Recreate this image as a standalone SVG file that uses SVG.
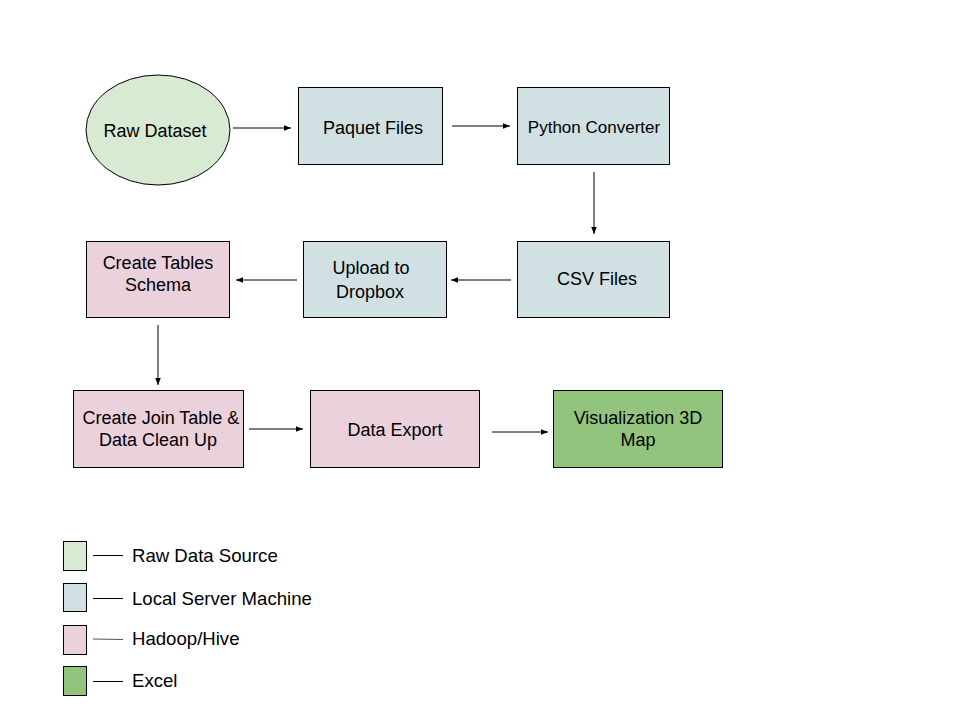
<svg xmlns="http://www.w3.org/2000/svg" width="960" height="720" viewBox="0 0 960 720">
<defs>
<style>
text{font-family:"Liberation Sans",Arial,sans-serif;font-size:18px;fill:#000;text-anchor:middle}
.lg{text-anchor:start;font-size:18.6px}
.n{stroke:#000;stroke-width:1}
.raw{fill:#d9ead3}.loc{fill:#d0e0e3}.hd{fill:#ead1dc}.xl{fill:#93c47d}
.c{stroke:#000;stroke-width:1;fill:none}
.e{marker-end:url(#ah)}
</style>
<marker id="ah" viewBox="0 0 10 10" refX="10" refY="5" markerWidth="7" markerHeight="7" markerUnits="userSpaceOnUse" orient="auto">
<path d="M0,1 L10,5 L0,9 z" fill="#000"/>
</marker>
</defs>
<rect width="960" height="720" fill="#fff"/>
<g id="connectors">
<line class="c e" x1="233" y1="128" x2="291" y2="128"/>
<line class="c e" x1="452" y1="126" x2="510" y2="126"/>
<line class="c e" x1="594" y1="172" x2="594" y2="234"/>
<line class="c e" x1="511" y1="280" x2="451" y2="280"/>
<line class="c e" x1="297" y1="280" x2="236" y2="280"/>
<line class="c e" x1="158" y1="325" x2="158" y2="385"/>
<line class="c e" x1="249" y1="429" x2="303" y2="429"/>
<line class="c e" x1="492" y1="432" x2="548" y2="432"/>
</g>
<g id="raw-dataset"><ellipse class="n raw" cx="158" cy="130" rx="72" ry="55"/><text x="155" y="137">Raw Dataset</text></g>
<g id="paquet-files"><rect class="n loc" x="298.5" y="87.5" width="144" height="77"/><text x="373" y="134">Paquet Files</text></g>
<g id="python-converter"><rect class="n loc" x="517.5" y="87.5" width="152" height="77"/><text x="594" y="133" style="font-size:17px">Python Converter</text></g>
<g id="csv-files"><rect class="n loc" x="517.5" y="241.5" width="152" height="76"/><text x="597" y="285">CSV Files</text></g>
<g id="upload-dropbox"><rect class="n loc" x="303.5" y="241.5" width="143" height="76"/><text x="371" y="274">Upload to</text><text x="370" y="298">Dropbox</text></g>
<g id="create-tables"><rect class="n hd" x="86.5" y="241.5" width="143" height="76"/><text x="158" y="269">Create Tables</text><text x="158" y="291">Schema</text></g>
<g id="join-table"><rect class="n hd" x="73.5" y="390.5" width="170" height="77"/><text x="161" y="424">Create Join Table &amp;</text><text x="158" y="446">Data Clean Up</text></g>
<g id="data-export"><rect class="n hd" x="310.5" y="390.5" width="169" height="77"/><text x="395" y="436">Data Export</text></g>
<g id="visualization"><rect class="n xl" x="553.5" y="390.5" width="169" height="77"/><text x="638" y="424">Visualization 3D</text><text x="638" y="446">Map</text></g>
<g id="legend">
<rect class="n raw" x="63.5" y="541.5" width="23" height="29"/><line class="c" x1="93" y1="555.5" x2="123" y2="555.5"/><text class="lg" x="132" y="562">Raw Data Source</text>
<rect class="n loc" x="63.5" y="583.5" width="23" height="28"/><line class="c" x1="93" y1="598.5" x2="123" y2="598.5"/><text class="lg" x="132" y="605">Local Server Machine</text>
<rect class="n hd" x="63.5" y="625.5" width="23" height="29"/><line class="c" x1="93" y1="639" x2="123" y2="639.5" style="stroke:#555"/><text class="lg" x="132" y="645">Hadoop/Hive</text>
<rect class="n xl" x="63.5" y="666.5" width="23" height="29"/><line class="c" x1="93" y1="681.5" x2="123" y2="681.5"/><text class="lg" x="132" y="687">Excel</text>
</g>
</svg>
